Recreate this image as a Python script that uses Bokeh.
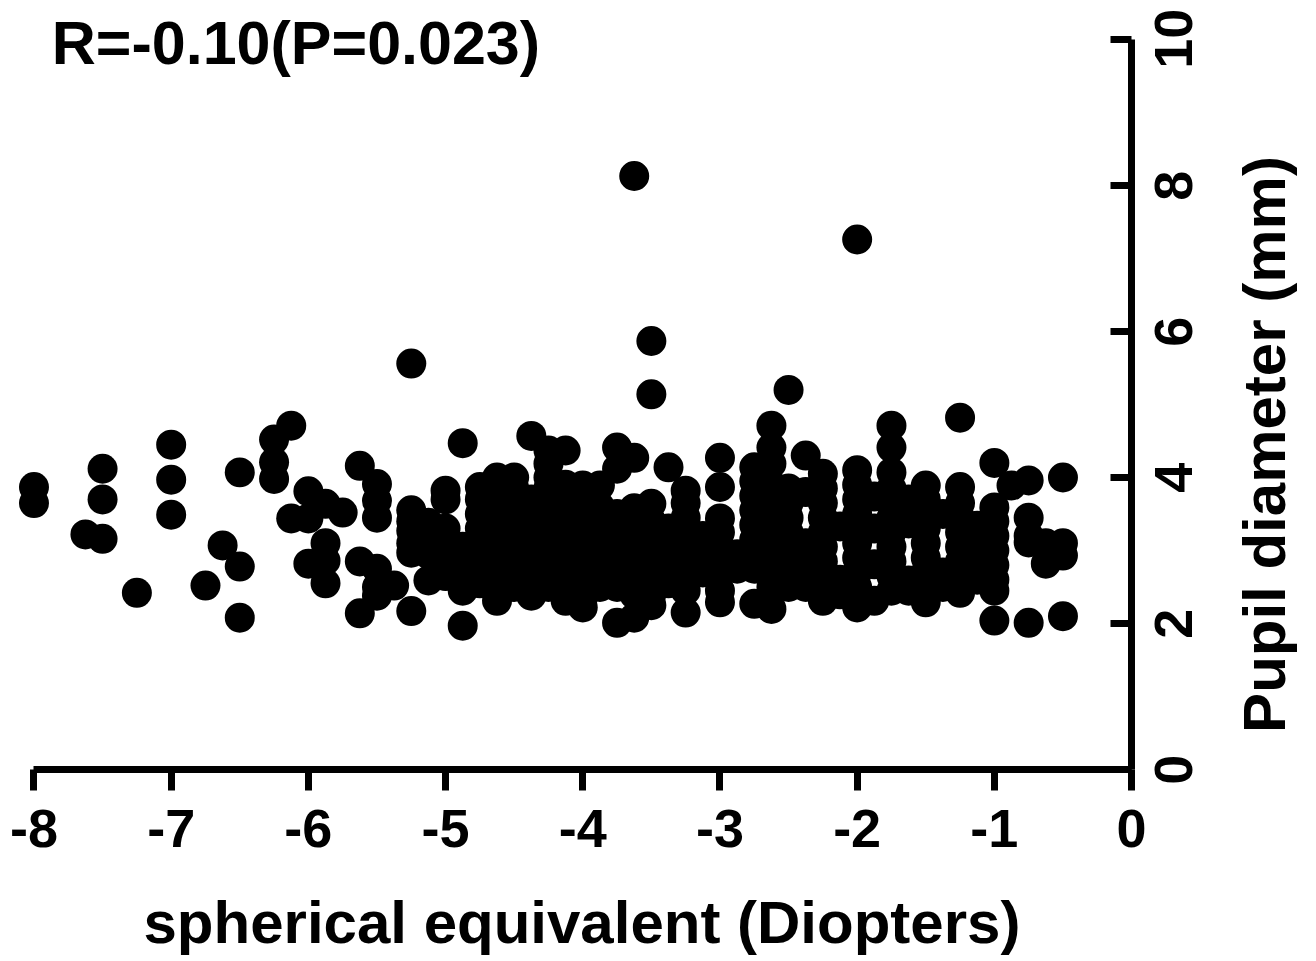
from bokeh.plotting import figure
from bokeh.models import Range1d, FixedTicker, LinearAxis, Label
from bokeh.embed import file_html
from bokeh.resources import INLINE

x_ticks = [-8, -7, -6, -5, -4, -3, -2, -1, 0]
x_tick_labels = ["-8", "-7", "-6", "-5", "-4", "-3", "-2", "-1", "0"]
y_ticks = [0, 2, 4, 6, 8, 10]
y_tick_labels = ["0", "2", "4", "6", "8"]
y_label_at = [-0.21, 1.79, 3.79, 5.79, 7.79]
y_top_label = "10"
x_title = "spherical equivalent (Diopters)"
y_title = "Pupil diameter (mm)"
chart_note = "R=-0.10(P=0.023)"

m8000 = [3.87, 3.65]
m7625 = [3.22]
m7500 = [4.12, 3.70, 3.16]
m7250 = [2.42]
m7000 = [4.45, 3.97, 3.49]
m6750 = [2.52]
m6625 = [3.07]
m6500 = [4.07, 2.78, 2.08]
m6250 = [4.52, 4.21, 3.98]
m6125 = [4.71, 3.44]
m6000 = [3.81, 3.44, 2.82]
m5875 = [3.64, 3.10, 2.86, 2.55]
m5750 = [3.52]
m5625 = [4.16, 2.85, 2.14]
m5500 = [3.91, 3.68, 3.45, 2.75, 2.50, 2.38]
m5375 = [2.52]
m5250 = [5.56, 3.55, 3.40, 3.27, 3.10, 2.97, 2.17]
m5125 = [3.38, 3.20, 3.00, 2.95, 2.59]
m5000 = [3.82, 3.70, 3.30, 3.05, 2.85, 2.65]
m4875 = [4.47, 3.05, 2.80, 2.60, 2.45, 1.97]
m4750 = [3.87, 3.70, 3.50, 3.30, 3.10, 2.90, 2.70, 2.55]
m4625 = [4.00, 3.80, 3.60, 3.40, 3.25, 3.05, 2.85, 2.65, 2.45, 2.31]
m4500 = [4.00, 3.85, 3.65, 3.45, 3.25, 3.05, 2.85, 2.65, 2.50]
m4375 = [4.57, 3.70, 3.50, 3.30, 3.10, 2.90, 2.70, 2.55, 2.38]
m4250 = [4.37, 4.19, 4.00, 3.85, 3.50, 3.30, 3.10, 2.90, 2.70, 2.50]
m4125 = [4.37, 3.90, 3.70, 3.50, 3.30, 3.10, 2.90, 2.70, 2.50, 2.31]
m4000 = [3.89, 3.70, 3.50, 3.30, 3.10, 2.90, 2.70, 2.50, 2.35, 2.22]
m3875 = [3.89, 3.60, 3.40, 3.20, 3.00, 2.80, 2.60, 2.50]
m3750 = [4.41, 4.12, 3.50, 3.30, 3.10, 2.90, 2.70, 2.50, 2.01]
m3625 = [8.13, 4.27, 3.58, 3.40, 3.20, 3.00, 2.80, 2.60, 2.40, 2.08]
m3500 = [5.87, 5.14, 3.64, 3.40, 3.20, 3.00, 2.80, 2.60, 2.40, 2.25]
m3375 = [4.14, 3.30, 3.10, 2.90, 2.70, 2.55]
m3250 = [3.82, 3.65, 3.45, 3.25, 3.05, 2.85, 2.65, 2.45, 2.15]
m3125 = [3.20, 3.00, 2.85, 2.70]
m3000 = [4.27, 3.87, 3.44, 3.25, 3.05, 2.85, 2.70, 2.45, 2.29]
m2875 = [2.95, 2.85, 2.75]
m2750 = [4.14, 3.95, 3.75, 3.55, 3.35, 3.15, 2.95, 2.75, 2.27]
m2625 = [4.71, 4.41, 4.19, 3.90, 3.70, 3.50, 3.30, 3.10, 2.90, 2.70, 2.50, 2.20]
m2500 = [5.20, 3.85, 3.65, 3.45, 3.25, 3.05, 2.85, 2.65, 2.50]
m2375 = [4.30, 3.80, 3.10, 2.90, 2.70, 2.50]
m2250 = [4.05, 3.85, 3.65, 3.45, 3.25, 3.05, 2.85, 2.65, 2.45, 2.31]
m2125 = [3.33, 2.60, 2.40]
m2000 = [7.26, 4.10, 3.90, 3.70, 3.50, 3.30, 3.10, 2.90, 2.70, 2.50, 2.22]
m1875 = [3.74, 3.30, 2.81, 2.31]
m1750 = [4.71, 4.41, 4.07, 3.85, 3.65, 3.45, 3.25, 3.05, 2.85, 2.65, 2.45]
m1625 = [3.70, 3.37, 2.59, 2.45]
m1500 = [3.89, 3.70, 3.50, 3.30, 3.10, 2.90, 2.70, 2.50, 2.29]
m1375 = [3.50, 2.70, 2.50]
m1250 = [4.82, 3.87, 3.65, 3.45, 3.25, 3.05, 2.85, 2.65, 2.42]
m1125 = [3.34, 3.15, 2.95, 2.75, 2.60]
m1000 = [4.20, 3.59, 3.40, 3.20, 3.00, 2.80, 2.60, 2.45, 2.04]
m0875 = [3.89]
m0750 = [3.96, 3.45, 3.20, 3.11, 2.01]
m0625 = [3.10, 2.82]
m0500 = [4.00, 3.10, 2.93, 2.10]

columns = [
    (-8.0, m8000), (-7.625, m7625), (-7.5, m7500), (-7.25, m7250), (-7.0, m7000),
    (-6.75, m6750), (-6.625, m6625), (-6.5, m6500), (-6.25, m6250), (-6.125, m6125),
    (-6.0, m6000), (-5.875, m5875), (-5.75, m5750), (-5.625, m5625), (-5.5, m5500),
    (-5.375, m5375), (-5.25, m5250), (-5.125, m5125), (-5.0, m5000), (-4.875, m4875),
    (-4.75, m4750), (-4.625, m4625), (-4.5, m4500), (-4.375, m4375), (-4.25, m4250),
    (-4.125, m4125), (-4.0, m4000), (-3.875, m3875), (-3.75, m3750), (-3.625, m3625),
    (-3.5, m3500), (-3.375, m3375), (-3.25, m3250), (-3.125, m3125), (-3.0, m3000),
    (-2.875, m2875), (-2.75, m2750), (-2.625, m2625), (-2.5, m2500), (-2.375, m2375),
    (-2.25, m2250), (-2.125, m2125), (-2.0, m2000), (-1.875, m1875), (-1.75, m1750),
    (-1.625, m1625), (-1.5, m1500), (-1.375, m1375), (-1.25, m1250), (-1.125, m1125),
    (-1.0, m1000), (-0.875, m0875), (-0.75, m0750), (-0.625, m0625), (-0.5, m0500),
]
xs = [cx for cx, col in columns for _ in col]
ys = [v for _, col in columns for v in col]

FONT = "Liberation Sans"
INK = "#000000"
VERTICAL = 1.5708

p = figure(width=1316, height=961, output_backend="svg", toolbar_location=None,
           x_range=Range1d(-8.244, 1.348), y_range=Range1d(-2.63, 10.534),
           x_axis_location=None, y_axis_location=None,
           min_border_left=0, min_border_right=0, min_border_top=0, min_border_bottom=0)
p.outline_line_color = None
p.xgrid.visible = False
p.ygrid.visible = False
p.background_fill_color = "white"
p.border_fill_color = "white"

p.scatter(xs, ys, size=30, marker="circle", fill_color=INK, line_color=None)

xa = LinearAxis(ticker=FixedTicker(ticks=x_ticks), bounds=(-8, 0), fixed_location=0,
                major_label_overrides=dict(zip(x_ticks, x_tick_labels)),
                major_label_text_font=FONT, major_label_text_font_style="bold",
                major_label_text_font_size="54px", major_label_text_color=INK,
                major_label_standoff=19,
                axis_line_width=7, axis_line_color=INK,
                major_tick_line_width=7, major_tick_line_color=INK,
                major_tick_in=0, major_tick_out=21, minor_tick_line_color=None)
p.add_layout(xa, "below")

ya = LinearAxis(ticker=FixedTicker(ticks=y_ticks), bounds=(0, 10), fixed_location=0,
                major_label_text_font_size="0px",
                major_label_overrides={t: "" for t in y_ticks},
                axis_line_width=7, axis_line_color=INK,
                major_tick_line_width=7, major_tick_line_color=INK,
                major_tick_in=21, major_tick_out=0, minor_tick_line_color=None)
p.add_layout(ya, "right")

yl = LinearAxis(ticker=FixedTicker(ticks=y_label_at), fixed_location=0,
                major_label_overrides=dict(zip(y_label_at, y_tick_labels)),
                major_label_orientation=VERTICAL,
                major_label_text_font=FONT, major_label_text_font_style="bold",
                major_label_text_font_size="54px", major_label_text_color=INK,
                major_label_standoff=42,
                axis_line_color=None, major_tick_line_color=None, minor_tick_line_color=None,
                major_tick_in=0, major_tick_out=0)
p.add_layout(yl, "right")

p.add_layout(Label(x=0.306, y=10.01, text=y_top_label, angle=VERTICAL,
                   text_font=FONT, text_font_style="bold", text_font_size="54px",
                   text_color=INK, text_align="center", text_baseline="alphabetic"))
p.add_layout(Label(x=-7.87, y=9.95, text=chart_note,
                   text_font=FONT, text_font_style="bold", text_font_size="61px",
                   text_color=INK, text_align="left", text_baseline="alphabetic"))
p.add_layout(Label(x=-4.006, y=-2.1, text=x_title,
                   text_font=FONT, text_font_style="bold", text_font_size="60px",
                   text_color=INK, text_align="center", text_baseline="alphabetic"))
p.add_layout(Label(x=0.97, y=4.452, text=y_title, angle=VERTICAL,
                   text_font=FONT, text_font_style="bold", text_font_size="60px",
                   text_color=INK, text_align="center", text_baseline="alphabetic"))

open("out.html", "w").write(file_html(p, INLINE))
